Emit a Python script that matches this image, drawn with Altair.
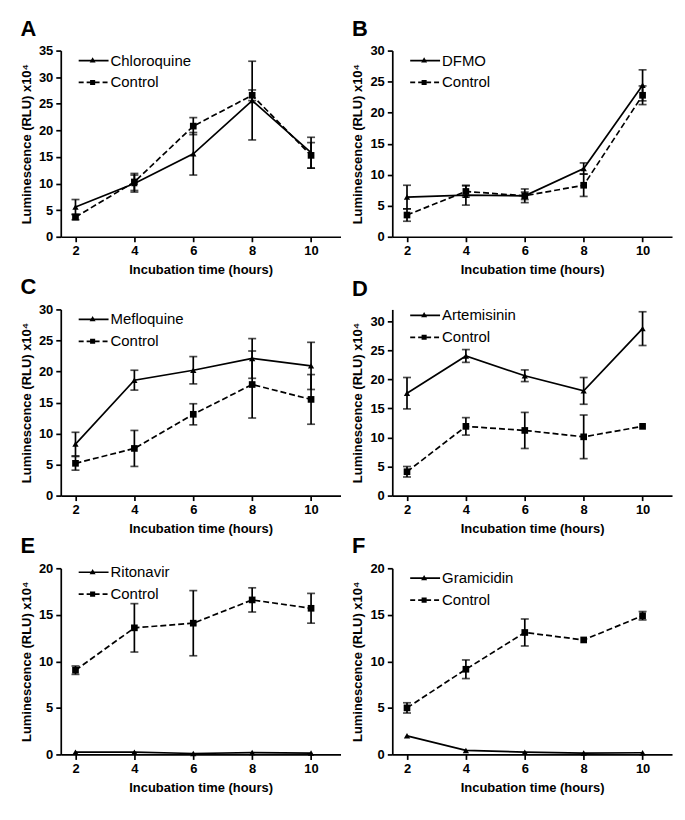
import altair as alt
import pandas as pd

# ---------------- data ----------------
x_hours = [2, 4, 6, 8, 10]

panel_letters = ["A", "B", "C", "D", "E", "F"]
drug_names = ["Chloroquine", "DFMO", "Mefloquine", "Artemisinin", "Ritonavir", "Gramicidin"]
y_max = [35, 30, 30, 32, 20, 20]

A_drug = [5.6, 10.0, 15.6, 25.6, 15.8]
A_drug_err = [1.4, 1.6, 4.0, 7.4, 2.9]
A_ctrl = [3.7, 10.3, 20.8, 26.6, 15.3]
A_ctrl_err = [0.5, 1.6, 1.6, 1.0, 2.4]

B_drug = [6.4, 6.7, 6.6, 11.0, 24.4]
B_drug_err = [1.9, 1.6, 1.1, 0.9, 2.5]
B_ctrl = [3.5, 7.3, 6.6, 8.3, 22.8]
B_ctrl_err = [1.0, 0.9, 0.6, 1.8, 1.5]

C_drug = [8.3, 18.6, 20.2, 22.1, 20.9]
C_drug_err = [1.9, 1.6, 2.2, 3.2, 3.8]
C_ctrl = [5.2, 7.6, 13.1, 17.9, 15.5]
C_ctrl_err = [1.1, 2.9, 1.7, 5.4, 4.0]

D_drug = [17.6, 24.0, 20.6, 18.0, 28.7]
D_drug_err = [2.7, 1.1, 1.0, 2.3, 2.9]
D_ctrl = [4.1, 11.9, 11.2, 10.1, 11.9]
D_ctrl_err = [0.9, 1.5, 3.1, 3.75, 0.0]

E_drug = [0.25, 0.25, 0.1, 0.2, 0.15]
E_drug_err = [0.0, 0.0, 0.0, 0.0, 0.0]
E_ctrl = [9.05, 13.6, 14.1, 16.6, 15.7]
E_ctrl_err = [0.45, 2.6, 3.5, 1.3, 1.6]

F_drug = [2.0, 0.43, 0.25, 0.15, 0.18]
F_drug_err = [0.0, 0.0, 0.0, 0.0, 0.0]
F_ctrl = [5.0, 9.15, 13.1, 12.3, 14.9]
F_ctrl_err = [0.55, 1.0, 1.45, 0.0, 0.45]

series_data = {
    "A": (A_drug, A_drug_err, A_ctrl, A_ctrl_err),
    "B": (B_drug, B_drug_err, B_ctrl, B_ctrl_err),
    "C": (C_drug, C_drug_err, C_ctrl, C_ctrl_err),
    "D": (D_drug, D_drug_err, D_ctrl, D_ctrl_err),
    "E": (E_drug, E_drug_err, E_ctrl, E_ctrl_err),
    "F": (F_drug, F_drug_err, F_ctrl, F_ctrl_err),
}

# ---------------- styling ----------------
legend_y = [0, 0, 0, -4, -6, 0]   # legend offset from plot top (px)

Y_TITLE = "Luminescence (RLU) x10\u2074"
X_TITLE = "Incubation time (hours)"
FONT = "Liberation Sans"
LW = 1.7

# legend marker symbols (unit coords, drawn at symbolSize 900 -> 30px box)
TRI_PATH = "M-0.2,0.13L0,-0.22L0.2,0.13Z"
SQ_PATH = "M-0.17,-0.17H0.17V0.17H-0.17Z"


def make_df(letter, drug):
    d, de, c, ce = series_data[letter]
    rows = []
    for i, xv in enumerate(x_hours):
        rows.append({"x": xv, "y": d[i], "err": de[i], "series": drug})
        rows.append({"x": xv, "y": c[i], "err": ce[i], "series": "Control"})
    df = pd.DataFrame(rows)
    # marker-legend key (distinct domain so the two overlaid legends stay separate)
    df["series_m"] = df["series"] + " "
    df["lo"] = df["y"] - df["err"]
    df["hi"] = df["y"] + df["err"]
    return df


def legend_params(show_labels, stroke_w, ly):
    extra = {} if show_labels else {"labelExpr": "''"}
    return alt.Legend(
        title=None, orient="none", legendX=17, legendY=ly, padding=0,
        labelFont=FONT, labelFontSize=15, labelColor="black", labelOffset=1,
        symbolSize=900, symbolStrokeColor="black", symbolFillColor="black",
        symbolStrokeWidth=stroke_w, symbolOpacity=1, clipHeight=20, rowPadding=2,
        **extra,
    )


def panel(letter, drug, ymax, ly):
    df = make_df(letter, drug)
    base = alt.Chart(df)
    xs = alt.Scale(domain=[1.5, 11], nice=False, zero=False)
    ys = alt.Scale(domain=[0, ymax], nice=False, zero=True)
    xaxis = alt.Axis(values=x_hours, title=X_TITLE)
    yaxis = alt.Axis(values=list(range(0, ymax + 1, 5)), title=Y_TITLE)

    def X(f="x"):
        return alt.X(f + ":Q", scale=xs, axis=xaxis, title=X_TITLE)

    def Y(f):
        return alt.Y(f + ":Q", scale=ys, axis=yaxis, title=Y_TITLE)

    is_drug = alt.datum.series == drug
    is_ctrl = alt.datum.series == "Control"
    has_err = alt.datum.err > 0

    line_d = base.transform_filter(is_drug).mark_line(
        color="black", strokeWidth=LW).encode(x=X(), y=Y("y"))
    line_c = base.transform_filter(is_ctrl).mark_line(
        color="black", strokeWidth=LW, strokeDash=[6, 3]).encode(x=X(), y=Y("y"))
    ebar = base.transform_filter(has_err).mark_rule(
        color="black", strokeWidth=LW).encode(x=X(), y=Y("lo"), y2="hi:Q")
    cap_hi = base.transform_filter(has_err).mark_tick(
        color="black", orient="horizontal", size=8, thickness=LW).encode(x=X(), y=Y("hi"))
    cap_lo = base.transform_filter(has_err).mark_tick(
        color="black", orient="horizontal", size=8, thickness=LW).encode(x=X(), y=Y("lo"))
    pt_d = base.transform_filter(is_drug).mark_point(
        shape="triangle-up", filled=True, color="black", size=40, opacity=1).encode(x=X(), y=Y("y"))
    pt_c = base.transform_filter(is_ctrl).mark_point(
        shape="square", filled=True, color="black", size=45, opacity=1).encode(x=X(), y=Y("y"))

    # legend: dashed/solid line symbols + overlaid marker symbols
    leg_lines = base.mark_line(color="black", strokeWidth=LW, opacity=0).encode(
        x=X(), y=Y("y"),
        strokeDash=alt.StrokeDash(
            "series:N",
            scale=alt.Scale(domain=[drug, "Control"], range=[[1, 0], [5, 3]]),
            legend=legend_params(True, LW, ly)),
    )
    leg_marks = base.transform_filter(alt.datum.x == 2).mark_point(
        filled=True, color="black", opacity=0).encode(
        x=X(), y=Y("y"),
        shape=alt.Shape(
            "series_m:N",
            scale=alt.Scale(domain=[drug + " ", "Control "], range=[TRI_PATH, SQ_PATH]),
            legend=legend_params(False, 0, ly)),
    )

    return alt.layer(line_d, line_c, ebar, cap_hi, cap_lo, pt_d, pt_c, leg_lines, leg_marks).properties(
        width=281, height=187,
        title=alt.TitleParams(letter, anchor="start", frame="bounds", fontSize=22,
                              font=FONT, fontWeight="bold", color="black", offset=4),
    )


panels = [panel(l, d, m, ly) for l, d, m, ly in zip(panel_letters, drug_names, y_max, legend_y)]


def indep(ch):
    return ch.resolve_scale(shape="independent", strokeDash="independent").resolve_legend(
        shape="independent", strokeDash="independent")


rows = [indep(alt.hconcat(panels[i], panels[i + 1], spacing=11)) for i in (0, 2, 4)]
chart = indep(alt.vconcat(*rows, spacing=0)).properties(
    padding={"left": 12, "top": 8, "right": 5, "bottom": 5},
    background="white",
).configure_view(stroke=None).configure_axis(
    labelFont=FONT, labelFontSize=13, labelFontWeight="bold", labelColor="black",
    titleFont=FONT, titleFontSize=13, titleFontWeight="bold", titleColor="black",
    domainColor="black", domainWidth=LW, tickColor="black", tickWidth=LW, tickSize=5,
    labelPadding=3, grid=False,
).configure_axisY(titlePadding=5).configure_axisX(titlePadding=6)

chart.save("out.html", embed_options={"renderer": "svg", "actions": False})
